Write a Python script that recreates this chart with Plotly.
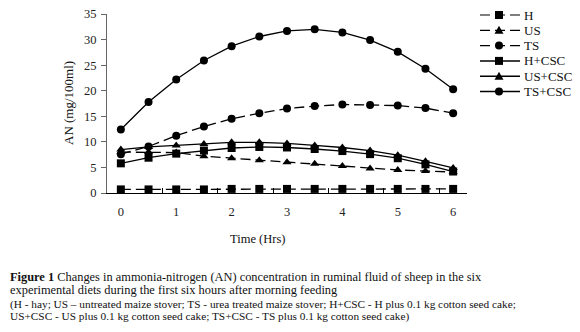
import plotly.graph_objects as go

time_h = [0, 0.5, 1, 1.5, 2, 2.5, 3, 3.5, 4, 4.5, 5, 5.5, 6]
H = [0.7, 0.7, 0.7, 0.7, 0.8, 0.8, 0.8, 0.8, 0.8, 0.8, 0.8, 0.8, 0.8]
US = [8.0, 8.0, 7.9, 7.2, 6.8, 6.4, 6.0, 5.7, 5.3, 4.8, 4.5, 4.3, 4.1]
TS = [7.6, 9.1, 11.2, 13.0, 14.5, 15.6, 16.5, 17.0, 17.3, 17.2, 17.1, 16.6, 15.6]
H_CSC = [5.8, 6.9, 7.7, 8.3, 8.8, 9.0, 8.9, 8.6, 8.2, 7.6, 6.8, 5.6, 4.2]
US_CSC = [8.5, 9.0, 9.3, 9.6, 9.9, 9.9, 9.7, 9.3, 8.9, 8.3, 7.4, 6.2, 4.9]
TS_CSC = [12.4, 17.8, 22.2, 25.9, 28.7, 30.6, 31.7, 32.0, 31.4, 29.9, 27.6, 24.3, 20.3]

series_names = ["H", "US", "TS", "H+CSC", "US+CSC", "TS+CSC"]
series_vals = [H, US, TS, H_CSC, US_CSC, TS_CSC]
symbols = ["square", "triangle-up", "circle", "square", "triangle-up", "circle"]
dashes = ["10px,5px", "10px,5px", "10px,5px", "solid", "solid", "solid"]

x_ticks = [0, 1, 2, 3, 4, 5, 6]
y_ticks = [0, 5, 10, 15, 20, 25, 30, 35]

# page body has an 8px default margin: figure is shifted by OFF
OFF = 8
W, Hh = 580 - OFF, 332 - OFF
# plot area in screen pixels
L, R, T, B = 107, 467, 14, 193


def px_x(p):
    return (p - L) / (R - L)


def px_y(p):
    return (B - p) / (B - T)


SERIF = "Liberation Serif"
fig = go.Figure()
for name, vals, sym, dsh in zip(series_names, series_vals, symbols, dashes):
    fig.add_trace(go.Scatter(
        x=time_h, y=vals, name=name, mode="lines+markers", showlegend=False,
        line=dict(color="black", width=1.3, dash=dsh),
        marker=dict(symbol=sym, size=8, color="black"),
    ))

fig.update_layout(
    width=W, height=Hh,
    margin=dict(l=L - OFF, r=(W + OFF) - R, t=T - OFF, b=(Hh + OFF) - B, autoexpand=False),
    paper_bgcolor="white", plot_bgcolor="white",
    font=dict(family=SERIF, color="#222", size=12),
    showlegend=False,
    xaxis=dict(range=[-0.25, 6.25], tickvals=x_ticks, ticktext=[str(v) for v in x_ticks],
               ticks="", showgrid=False, zeroline=False, showline=True,
               linecolor="black", linewidth=1.2, ticklabelstandoff=7,
               ticklabeloverflow="allow",
               tickfont=dict(family=SERIF, size=12.5, color="#222"),
               minor=dict(tickvals=[0.75, 1.75, 2.75, 3.75, 4.75, 5.75], ticks="inside",
                          ticklen=5, tickcolor="black", tickwidth=1)),
    yaxis=dict(range=[0, 35], tickvals=y_ticks, ticks="outside", ticklen=5,
               tickcolor="#666", showgrid=False, zeroline=False, showline=True,
               linecolor="#666", linewidth=1.2, ticklabelstandoff=2,
               ticklabeloverflow="allow",
               tickfont=dict(family=SERIF, size=12.5, color="#222")),
)

# manual legend (compact row spacing as in the reference)
leg_x0, leg_x1, leg_mx, leg_tx = 480, 520, 499, 522
for i, (name, sym, dsh) in enumerate(zip(series_names, symbols, dashes)):
    cy = 15 + 15.3 * i
    fig.add_shape(type="line", xref="paper", yref="paper",
                  x0=px_x(leg_x0), x1=px_x(leg_x1), y0=px_y(cy), y1=px_y(cy),
                  line=dict(color="black", width=1.5 if dsh == "solid" else 1.2,
                            dash=dsh if dsh != "solid" else "solid"))
    r = 4
    if sym == "square":
        fig.add_shape(type="rect", xref="paper", yref="paper",
                      x0=px_x(leg_mx - r), x1=px_x(leg_mx + r),
                      y0=px_y(cy - r), y1=px_y(cy + r),
                      fillcolor="black", line=dict(width=0))
    elif sym == "circle":
        fig.add_shape(type="circle", xref="paper", yref="paper",
                      x0=px_x(leg_mx - r), x1=px_x(leg_mx + r),
                      y0=px_y(cy - r), y1=px_y(cy + r),
                      fillcolor="black", line=dict(width=0))
    else:
        path = "M {:.5f},{:.5f} L {:.5f},{:.5f} L {:.5f},{:.5f} Z".format(
            px_x(leg_mx - 4.5), px_y(cy + 3.5), px_x(leg_mx + 4.5), px_y(cy + 3.5),
            px_x(leg_mx), px_y(cy - 4.5))
        fig.add_shape(type="path", xref="paper", yref="paper", path=path,
                      fillcolor="black", line=dict(width=0))
    fig.add_annotation(text=name, xref="paper", yref="paper", x=px_x(leg_tx), y=px_y(cy),
                       xanchor="left", yanchor="middle", showarrow=False,
                       font=dict(family=SERIF, size=13, color="#111"))

annos = [
    dict(text="AN (mg/100ml)", x=px_x(68), y=px_y(103), textangle=-90,
         font=dict(size=13), xanchor="center", yanchor="middle"),
    dict(text="Time (Hrs)", x=px_x(257), y=px_y(239), font=dict(size=12.5),
         xanchor="center", yanchor="middle"),
    dict(text="<b>Figure 1</b> Changes in ammonia-nitrogen (AN) concentration in ruminal fluid of sheep in the six",
         x=px_x(OFF), y=px_y(277), font=dict(size=12.4), xanchor="left", yanchor="middle"),
    dict(text="experimental diets during the first six hours after morning feeding",
         x=px_x(OFF), y=px_y(290), font=dict(size=12.4), xanchor="left", yanchor="middle"),
    dict(text="(H - hay; US \u2013 untreated maize stover; TS - urea treated maize stover; H+CSC - H plus 0.1 kg cotton seed cake;",
         x=px_x(OFF), y=px_y(304), font=dict(size=11.3), xanchor="left", yanchor="middle"),
    dict(text="US+CSC - US plus 0.1 kg cotton seed cake; TS+CSC - TS plus 0.1 kg cotton seed cake)",
         x=px_x(OFF), y=px_y(316), font=dict(size=11.3), xanchor="left", yanchor="middle"),
]
for a in annos:
    a.update(xref="paper", yref="paper", showarrow=False)
    a["font"] = dict(family=SERIF, color="#111", size=a["font"]["size"])
    fig.add_annotation(**a)

fig.write_html("out.html")
